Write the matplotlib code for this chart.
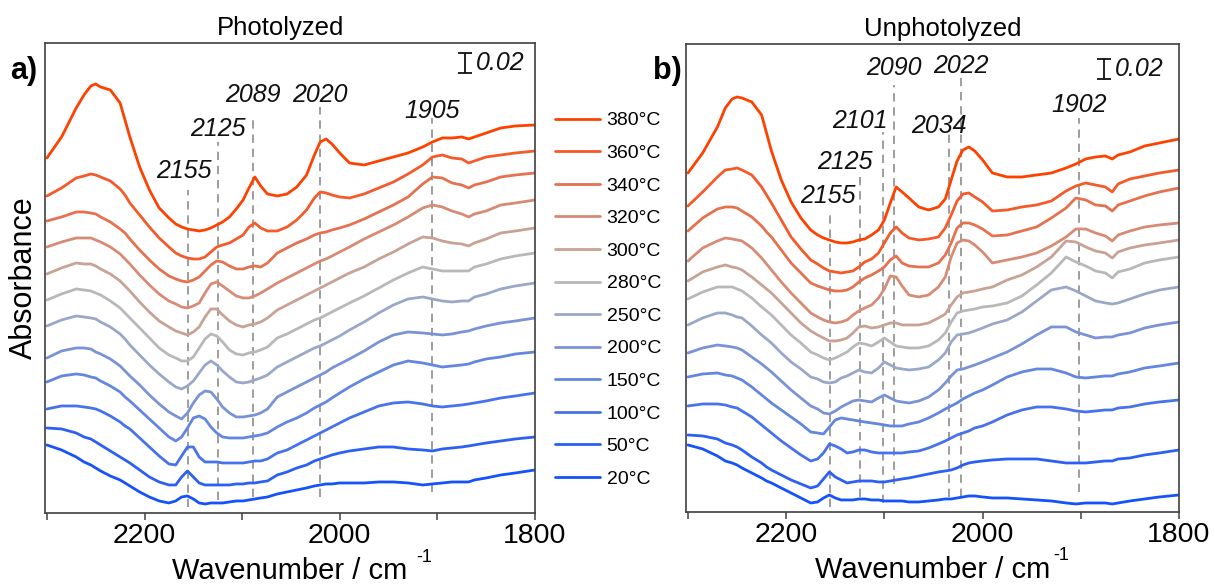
import matplotlib
matplotlib.use('Agg')
import numpy as np
import matplotlib.pyplot as plt

plt.rcParams['font.family'] = 'Liberation Sans'
plt.rcParams['mathtext.fontset'] = 'custom'
plt.rcParams['mathtext.rm'] = 'Liberation Sans'
plt.rcParams['mathtext.it'] = 'Liberation Sans:italic'

temps = ['20°C', '50°C', '100°C', '150°C', '200°C', '250°C',
         '280°C', '300°C', '320°C', '340°C', '360°C', '380°C']
colors = ['#1452fb', '#2c60f4', '#4672ec', '#6386e1', '#7a93d6', '#9aa8c8',
          '#b8b8b8', '#c8a294', '#d88b74', '#e5714f', '#f45a2a', '#ff4100']

# wavenumber grids, cm-1
wn_a = [2300, 2285, 2270, 2262, 2255, 2250, 2245, 2235, 2225, 2220, 2215, 2205, 2195,
        2185, 2175, 2168, 2162, 2156, 2150, 2144, 2138, 2132, 2126,
        2120, 2113, 2106, 2099, 2093, 2087, 2081, 2074, 2064, 2054,
        2044, 2034, 2026, 2020, 2014, 2008, 2000, 1990, 1975, 1960,
        1945, 1930, 1915, 1905, 1895, 1885, 1875, 1868, 1862, 1850,
        1835, 1820, 1800]
wn_b = [2300, 2285, 2270, 2262, 2255, 2250, 2245, 2235, 2225, 2220, 2215, 2205, 2195,
        2185, 2175, 2168, 2162, 2156, 2150, 2144, 2138, 2132, 2126,
        2120, 2113, 2106, 2100, 2094, 2088, 2082, 2075, 2065, 2055,
        2045, 2038, 2032, 2026, 2020, 2014, 2008, 2000, 1990, 1975,
        1960, 1945, 1930, 1915, 1905, 1895, 1885, 1875, 1868, 1862,
        1850, 1835, 1820, 1800]

# photolyzed spectra, absorbance x1000 with stacking offset
photo_20 = [68, 63, 56, 51, 48, 45, 42, 37, 33, 30, 27, 21, 16,
            12, 10, 12, 16, 17, 14, 10, 9, 10, 10,
            10, 11, 12, 12, 13, 14, 15, 16, 19, 21,
            23, 25, 27, 28, 29, 29, 30, 30, 30, 31,
            31, 30, 28, 29, 30, 31, 31, 31, 33, 35,
            38, 40, 43]
photo_50 = [85, 84, 80, 76, 74, 71, 68, 62, 56, 53, 50, 43, 36,
            31, 28, 28, 36, 42, 36, 30, 28, 28, 28,
            28, 28, 29, 29, 30, 30, 31, 32, 38, 41,
            45, 48, 52, 54, 56, 58, 60, 62, 64, 66,
            66, 64, 63, 62, 64, 65, 66, 67, 68, 70,
            72, 74, 76]
photo_100 = [104, 107, 107, 106, 105, 104, 102, 97, 91, 87, 84, 75, 66,
             57, 49, 48, 57, 66, 66, 56, 51, 51, 51,
             50, 50, 50, 50, 51, 52, 52, 54, 60, 63,
             68, 73, 77, 80, 83, 86, 90, 95, 101, 107,
             110, 111, 109, 107, 106, 107, 108, 109, 110, 112,
             115, 117, 120]
photo_150 = [131, 137, 139, 138, 136, 135, 132, 127, 121, 116, 112, 103, 94,
             85, 76, 72, 76, 85, 95, 97, 94, 86, 80,
             76, 75, 75, 75, 76, 77, 78, 80, 86, 91,
             95, 100, 105, 108, 111, 115, 120, 126, 134, 141,
             148, 152, 150, 148, 146, 147, 148, 149, 151, 154,
             156, 159, 161]
photo_200 = [155, 162, 165, 165, 164, 161, 159, 154, 147, 142, 137, 128, 118,
             109, 101, 97, 94, 100, 110, 118, 122, 121, 114,
             106, 100, 96, 96, 97, 98, 100, 104, 116, 121,
             126, 131, 135, 138, 141, 145, 149, 154, 162, 171,
             178, 181, 180, 179, 178, 179, 181, 182, 184, 187,
             190, 192, 195]
photo_250 = [187, 193, 197, 196, 195, 194, 191, 186, 179, 174, 168, 158, 148,
             139, 131, 126, 124, 127, 132, 140, 148, 152, 148,
             142, 136, 131, 130, 131, 133, 135, 138, 146, 151,
             156, 161, 165, 167, 170, 173, 177, 183, 191, 200,
             208, 214, 216, 214, 212, 211, 212, 212, 216, 219,
             224, 227, 230]
photo_280 = [213, 219, 224, 223, 222, 220, 218, 212, 205, 200, 195, 185, 175,
             165, 158, 155, 152, 152, 156, 165, 174, 179, 177,
             171, 163, 159, 158, 160, 161, 163, 166, 175, 179,
             184, 189, 193, 195, 198, 201, 205, 210, 217, 225,
             233, 240, 246, 244, 242, 242, 242, 242, 246, 249,
             254, 257, 260]
photo_300 = [239, 245, 250, 249, 249, 247, 244, 239, 232, 227, 222, 211, 201,
             192, 186, 182, 180, 178, 181, 186, 196, 204, 204,
             198, 192, 188, 186, 188, 189, 191, 195, 203, 208,
             213, 218, 222, 225, 228, 231, 235, 240, 246, 254,
             261, 269, 276, 275, 272, 270, 269, 267, 270, 274,
             280, 282, 285]
photo_320 = [266, 271, 275, 275, 275, 273, 271, 266, 259, 254, 249, 238, 228,
             219, 212, 209, 206, 205, 207, 210, 220, 229, 231,
             227, 222, 217, 215, 215, 217, 220, 224, 230, 235,
             240, 245, 249, 252, 254, 257, 261, 266, 274, 281,
             288, 296, 305, 308, 306, 302, 299, 296, 299, 302,
             308, 310, 313]
photo_340 = [292, 296, 301, 301, 300, 299, 296, 291, 284, 280, 274, 263, 253,
             244, 237, 234, 232, 231, 233, 236, 242, 248, 252,
             251, 247, 244, 244, 246, 247, 246, 250, 260, 265,
             270, 274, 278, 280, 281, 283, 285, 288, 294, 301,
             308, 316, 329, 336, 335, 330, 328, 325, 328, 331,
             336, 338, 340]
photo_360 = [317, 325, 335, 337, 339, 338, 336, 332, 324, 318, 310, 298, 286,
             275, 266, 260, 257, 255, 254, 254, 256, 261, 266,
             268, 270, 274, 278, 286, 290, 285, 282, 282, 286,
             293, 303, 315, 321, 320, 318, 316, 315, 319, 325,
             331, 339, 348, 356, 358, 355, 354, 350, 352, 356,
             358, 360, 362]
photo_380 = [355, 376, 405, 418, 427, 429, 426, 423, 410, 393, 376, 346, 323,
             305, 295, 289, 286, 284, 283, 282, 283, 285, 288,
             291, 296, 304, 313, 325, 336, 327, 319, 317, 319,
             326, 338, 358, 371, 374, 369, 360, 350, 348, 352,
             356, 360, 366, 371, 375, 375, 376, 374, 376, 380,
             385, 387, 388]

# unphotolyzed spectra, absorbance x1000 with stacking offset
unphoto_20 = [67, 63, 56, 51, 49, 47, 44, 39, 34, 31, 29, 24, 19,
              14, 9, 10, 14, 17, 14, 12, 12, 12, 13,
              13, 12, 12, 11, 11, 11, 11, 10, 10, 11,
              12, 13, 13, 14, 15, 16, 16, 15, 14, 14,
              13, 12, 11, 9, 8, 9, 9, 9, 8, 9,
              11, 13, 15, 17]
unphoto_50 = [77, 76, 73, 69, 67, 65, 62, 55, 49, 45, 42, 37, 32,
              28, 24, 26, 33, 40, 35, 32, 29, 30, 31,
              31, 31, 30, 30, 31, 32, 33, 34, 36, 38,
              40, 41, 42, 44, 47, 49, 50, 51, 52, 53,
              53, 53, 51, 49, 49, 49, 50, 51, 51, 53,
              54, 57, 59, 62]
unphoto_100 = [106, 108, 108, 107, 105, 104, 101, 95, 87, 83, 79, 71, 64,
               57, 51, 53, 59, 68, 66, 63, 59, 60, 62,
               62, 60, 59, 59, 59, 59, 59, 60, 61, 64,
               68, 71, 74, 77, 79, 81, 84, 86, 90, 97,
               102, 105, 105, 103, 101, 100, 101, 102, 102, 104,
               105, 108, 110, 112]
unphoto_150 = [135, 138, 139, 137, 136, 134, 132, 125, 117, 113, 109, 102, 95,
               88, 80, 79, 78, 85, 92, 94, 93, 92, 91,
               90, 89, 88, 87, 86, 86, 86, 88, 90, 94,
               99, 103, 106, 109, 113, 116, 119, 122, 127, 135,
               140, 143, 143, 139, 135, 134, 135, 136, 136, 138,
               140, 144, 146, 149]
unphoto_200 = [159, 164, 167, 166, 165, 164, 162, 155, 148, 144, 140, 131, 122,
               114, 106, 103, 99, 98, 101, 105, 108, 111, 112,
               111, 110, 114, 117, 114, 111, 110, 109, 111, 115,
               122, 129, 136, 142, 143, 145, 147, 150, 154, 160,
               168, 177, 185, 185, 180, 177, 174, 175, 175, 177,
               179, 184, 187, 190]
unphoto_250 = [187, 194, 199, 199, 197, 195, 194, 186, 177, 173, 169, 159, 150,
               143, 135, 133, 130, 129, 130, 134, 136, 139, 142,
               140, 139, 144, 150, 147, 144, 143, 142, 143, 145,
               152, 159, 170, 177, 178, 179, 181, 184, 188, 192,
               200, 211, 222, 225, 221, 216, 211, 209, 208, 209,
               213, 218, 222, 225]
unphoto_280 = [213, 220, 225, 225, 225, 223, 221, 214, 205, 201, 197, 187, 177,
               169, 160, 157, 154, 152, 154, 157, 160, 165, 169,
               168, 166, 170, 174, 170, 166, 165, 164, 164, 166,
               172, 179, 190, 199, 201, 202, 203, 205, 206, 209,
               216, 227, 239, 255, 250, 246, 241, 239, 234, 240,
               243, 249, 252, 255]
unphoto_300 = [231, 240, 245, 247, 245, 244, 242, 235, 227, 223, 219, 209, 199,
               189, 181, 177, 174, 171, 171, 172, 174, 179, 185,
               186, 184, 185, 187, 189, 189, 187, 187, 187, 189,
               194, 198, 207, 215, 219, 220, 221, 223, 225, 232,
               237, 245, 255, 271, 270, 265, 261, 259, 254, 260,
               264, 267, 269, 272]
unphoto_320 = [251, 264, 271, 274, 273, 272, 271, 264, 254, 248, 242, 230, 219,
               209, 199, 195, 192, 190, 189, 190, 192, 197, 201,
               204, 207, 214, 223, 236, 235, 226, 217, 215, 217,
               225, 235, 255, 269, 272, 271, 267, 260, 249, 252,
               255, 259, 266, 275, 283, 283, 279, 276, 271, 277,
               281, 285, 287, 289]
unphoto_340 = [281, 294, 303, 305, 305, 304, 301, 295, 286, 280, 275, 262, 249,
               239, 229, 226, 224, 222, 221, 221, 222, 225, 230,
               234, 237, 241, 245, 252, 256, 249, 246, 245, 245,
               249, 257, 269, 284, 289, 289, 287, 283, 276, 277,
               281, 285, 294, 304, 314, 312, 307, 306, 301, 307,
               311, 316, 320, 324]
unphoto_360 = [306, 320, 335, 342, 343, 344, 342, 337, 325, 317, 309, 292, 275,
               263, 252, 248, 244, 241, 240, 239, 240, 241, 245,
               250, 253, 259, 269, 279, 285, 279, 274, 272, 273,
               275, 284, 297, 311, 318, 319, 315, 310, 301, 302,
               305, 307, 311, 321, 326, 329, 327, 325, 320, 328,
               333, 336, 339, 342]
unphoto_380 = [339, 359, 385, 404, 413, 415, 414, 410, 397, 379, 361, 332, 310,
               294, 282, 277, 274, 272, 270, 269, 269, 270, 272,
               273, 277, 282, 292, 309, 325, 320, 314, 305, 302,
               305, 313, 332, 351, 362, 365, 361, 352, 339, 335,
               335, 337, 339, 344, 348, 353, 355, 356, 353, 357,
               360, 366, 369, 373]

photo = [photo_20, photo_50, photo_100, photo_150, photo_200, photo_250,
         photo_280, photo_300, photo_320, photo_340, photo_360, photo_380]
unphoto = [unphoto_20, unphoto_50, unphoto_100, unphoto_150, unphoto_200, unphoto_250,
           unphoto_280, unphoto_300, unphoto_320, unphoto_340, unphoto_360, unphoto_380]

# band markers: position, dashed line span (x1000), label offset and height
bands_a = [2155, 2125, 2089, 2020, 1905]
band_top_a = [323, 371, 395, 406, 395]
band_bot_a = [6, 13, 16, 16, 21]
label_dx_a = [5, 0, 0, 0, 0]
label_y_a = [342, 384, 418, 418, 402]

bands_b = [2155, 2125, 2101, 2090, 2034, 2022, 1902]
band_top_b = [300, 338, 380, 427, 380, 435, 394]
band_bot_b = [5, 15, 9, 28, 15, 15, 20]
label_dx_b = [3, 15, 24, 0, 11, 0, 0]
label_y_b = [316, 350, 391, 444, 386, 446, 407]

scale = 0.02


def draw_panel(ax, wn, spectra, bands, tops, bots, dxs, ys, bar_x, bar_y, ymax, title, title_x):
    wn = np.array(wn)
    ax.vlines(bands, np.array(bots) / 1000, np.array(tops) / 1000,
              colors='#8c8c8c', linestyles=(0, (5, 3.5)), lw=1.2, zorder=1)
    for s, c, t in zip(spectra, colors, temps):
        ax.plot(wn, np.array(s) / 1000, color=c, lw=2.0, label=t, zorder=2,
                solid_joinstyle='round', solid_capstyle='round')
    for b, dx, y in zip(bands, dxs, ys):
        ax.text(b + dx, y / 1000, str(b), ha='center', va='center',
                fontsize=18, style='italic', color='#111111')
    # 0.02 absorbance scale bar
    ax.errorbar([bar_x], [bar_y], yerr=scale / 2, fmt='none', ecolor='#111111',
                elinewidth=1.3, capsize=5, capthick=1.3)
    ax.text(bar_x - 11, bar_y, '%.2f' % scale, ha='left', va='center',
            fontsize=18, style='italic', color='#111111')

    ax.set_xlim(2302, 1800)
    ax.set_ylim(0, ymax)
    ax.set_xticks([2300, 2200, 2100, 2000, 1900, 1800])
    ax.set_xticklabels(['', '2200', '', '2000', '', '1800'])
    ax.set_yticks([])
    ax.tick_params(axis='x', direction='out', length=5, width=1.1,
                   labelsize=20.5, pad=2, color='#404040')
    for sp in ax.spines.values():
        sp.set_color('#404040')
        sp.set_linewidth(1.2)
    ax.set_xlabel('Wavenumber / cm', fontsize=21, labelpad=6)
    ax.set_title(title, fontsize=18.5, pad=6, x=title_x)


fig = plt.figure(figsize=(12.15, 5.88), dpi=100)
ax_a = fig.add_axes([0.037, 0.1276, 0.4033, 0.7993])
ax_b = fig.add_axes([0.5646, 0.1293, 0.4058, 0.7959])

draw_panel(ax_a, wn_a, photo, bands_a, band_top_a, band_bot_a, label_dx_a, label_y_a,
           1872, 0.450, 0.470, 'Photolyzed', 0.48)
draw_panel(ax_b, wn_b, unphoto, bands_b, band_top_b, band_bot_b, label_dx_b, label_y_b,
           1876, 0.443, 0.468, 'Unphotolyzed', 0.52)

# superscript of the unit sits well above the label line
ax_a.text(0.773, -0.094, '-1', transform=ax_a.transAxes, fontsize=13,
          ha='center', va='center', clip_on=False)
ax_b.text(0.761, -0.092, '-1', transform=ax_b.transAxes, fontsize=13,
          ha='center', va='center', clip_on=False)

ax_a.set_ylabel('Absorbance', fontsize=22, labelpad=4)

fig.text(10 / 1215, 1 - 71 / 588, 'a)', fontsize=22, weight='bold', va='center')
fig.text(653 / 1215, 1 - 71 / 588, 'b)', fontsize=22, weight='bold', va='center')

handles, labels = ax_a.get_legend_handles_labels()
fig.legend(handles[::-1], labels[::-1], loc='upper left', bbox_to_anchor=(0.4568, 0.8099),
           frameon=False, fontsize=14, handlelength=2.3, handletextpad=0.35,
           labelspacing=0.77, borderpad=0, borderaxespad=0)

fig.savefig('out.png', dpi=100)
